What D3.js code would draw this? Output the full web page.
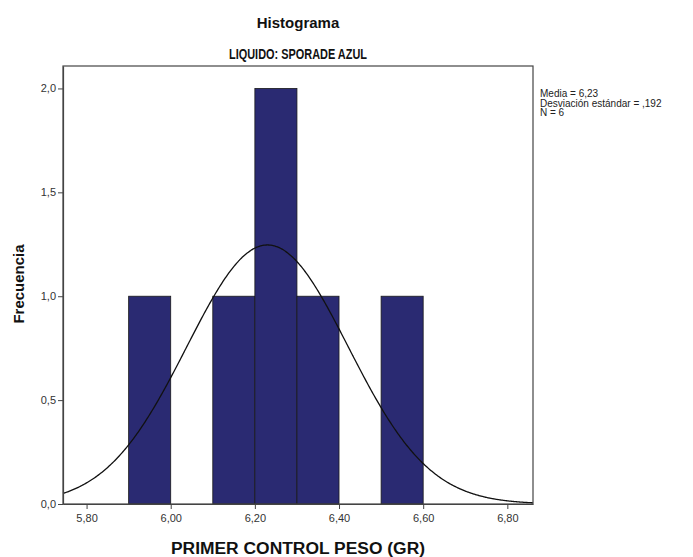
<!DOCTYPE html>
<html><head><meta charset="utf-8">
<script src="https://cdn.jsdelivr.net/npm/d3@7"></script>
<style>
body{margin:0;background:#fff;}
text{font-family:"Liberation Sans",Arial,sans-serif;}
</style></head>
<body>
<svg id="c" width="693" height="557"></svg>
<script>
const binStarts = [5.9, 6.1, 6.2, 6.3, 6.5];
const binWidth = 0.1;
const frequencies = [1, 1, 2, 1, 1];
const xTicks = [5.8, 6.0, 6.2, 6.4, 6.6, 6.8];
const yTicks = [0, 0.5, 1.0, 1.5, 2.0];
const stats = {mean: 6.23, sd: 0.192, n: 6};
const legendLines = ["Media = 6,23", "Desviación estándar = ,192", "N = 6"];

const svg = d3.select("#c");
const L = 63, R = 533, T = 66, B = 504;
const x = d3.scaleLinear().domain([5.744, 6.861]).range([L, R]);
const y = d3.scaleLinear().domain([0, 2.108]).range([B, T]);
const comma = f => (v => d3.format(f)(v).replace(".", ","));

// bars
svg.append("g").selectAll("rect").data(binStarts).join("rect")
  .attr("x", d => x(d)).attr("width", d => x(d + binWidth) - x(d))
  .attr("y", (d, i) => y(frequencies[i])).attr("height", (d, i) => y(0) - y(frequencies[i]))
  .attr("fill", "#2a2a72").attr("stroke", "#1a1a1a").attr("stroke-width", 0.8);

// normal curve
const pdf = v => stats.n * binWidth / (stats.sd * Math.sqrt(2 * Math.PI)) * Math.exp(-0.5 * Math.pow((v - stats.mean) / stats.sd, 2));
const xs = d3.range(0, 401).map(i => 5.744 + (6.861 - 5.744) * i / 400);
svg.append("path").datum(xs)
  .attr("d", d3.line().x(d => x(d)).y(d => y(pdf(d))).curve(d3.curveBasis))
  .attr("fill", "none").attr("stroke", "#111").attr("stroke-width", 1.3);

// frame
svg.append("rect").attr("x", L).attr("y", T).attr("width", R - L).attr("height", B - T)
  .attr("fill", "none").attr("stroke", "#444").attr("stroke-width", 1.2);

// axes
const xa = svg.append("g").attr("transform", `translate(0,${B})`)
  .call(d3.axisBottom(x).tickValues(xTicks).tickFormat(comma(".2f")).tickSize(5).tickSizeOuter(0));
const ya = svg.append("g").attr("transform", `translate(${L},0)`)
  .call(d3.axisLeft(y).tickValues(yTicks).tickFormat(comma(".1f")).tickSize(5).tickSizeOuter(0));
[xa, ya].forEach(a => {
  a.select(".domain").attr("stroke", "#444").attr("stroke-width", 1.2);
  a.selectAll(".tick line").attr("stroke", "#444");
  a.selectAll(".tick text").attr("font-family", "Liberation Sans, Arial, sans-serif")
    .attr("font-size", 11).attr("fill", "#333");
});
xa.selectAll(".tick text").attr("dy", "0.95em");
ya.selectAll(".tick text").attr("dx", "1px");

// titles
svg.append("text").attr("x", 298).attr("y", 28).attr("text-anchor", "middle")
  .attr("font-size", 15).attr("font-weight", "bold").attr("fill", "#111").text("Histograma");
svg.append("text").attr("x", 298).attr("y", 59).attr("text-anchor", "middle")
  .attr("font-size", 14).attr("font-weight", "bold").attr("fill", "#111")
  .attr("textLength", 138).attr("lengthAdjust", "spacingAndGlyphs")
  .text("LIQUIDO: SPORADE AZUL");
svg.append("text").attr("x", 298).attr("y", 554).attr("text-anchor", "middle")
  .attr("font-size", 16).attr("font-weight", "bold").attr("fill", "#111")
  .attr("textLength", 254).attr("lengthAdjust", "spacingAndGlyphs")
  .text("PRIMER CONTROL PESO (GR)");
svg.append("text").attr("transform", "translate(24,284) rotate(-90)").attr("text-anchor", "middle")
  .attr("font-size", 15).attr("font-weight", "bold").attr("fill", "#111").text("Frecuencia");

// legend
svg.append("g").selectAll("text").data(legendLines).join("text")
  .attr("x", 540).attr("y", (d, i) => 97 + i * 9.5)
  .attr("font-size", 10).attr("fill", "#222").text(d => d);
</script>
</body></html>
